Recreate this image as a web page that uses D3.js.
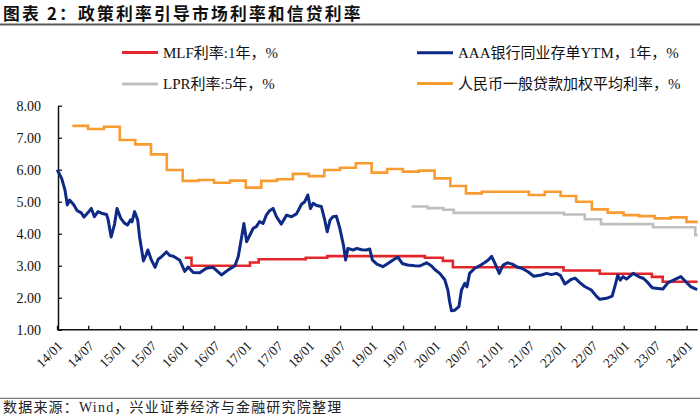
<!DOCTYPE html>
<html><head><meta charset="utf-8">
<script src="https://cdn.jsdelivr.net/npm/d3@7"></script>
<style>body{margin:0;background:#fff}svg{display:block}</style>
</head><body><svg id="c" width="700" height="418"></svg>
<script>
// ---------- DATA ----------
const xTickLabels = ["14/01","14/07","15/01","15/07","16/01","16/07","17/01","17/07","18/01","18/07","19/01","19/07","20/01","20/07","21/01","21/07","22/01","22/07","23/01","23/07","24/01"];
const yTicks = [1,2,3,4,5,6,7,8];

const mlfDates  = ["2016-01-12","2016-02-20","2017-01-24","2017-03-16","2017-12-14","2018-04-17","2019-11-05","2020-02-17","2020-04-15","2022-01-17","2022-08-15","2023-06-13","2023-08-15"];
const mlfValues = [3.25,3.00,3.10,3.20,3.25,3.30,3.25,3.15,2.95,2.85,2.75,2.65,2.50];

const lprDates  = ["2019-08-20","2019-11-20","2020-02-20","2020-04-20","2022-01-20","2022-05-20","2022-08-22","2023-06-20","2024-02-20"];
const lprValues = [4.85,4.80,4.75,4.65,4.60,4.45,4.30,4.20,3.95];

const loanDates = ["2014-03-31","2014-06-30","2014-09-30","2014-12-31","2015-03-31","2015-06-30","2015-09-30","2015-12-31",
  "2016-03-31","2016-06-30","2016-09-30","2016-12-31","2017-03-31","2017-06-30","2017-09-30","2017-12-31",
  "2018-03-31","2018-06-30","2018-09-30","2018-12-31","2019-03-31","2019-06-30","2019-09-30","2019-12-31",
  "2020-03-31","2020-06-30","2020-09-30","2020-12-31","2021-03-31","2021-06-30","2021-09-30","2021-12-31",
  "2022-03-31","2022-06-30","2022-09-30","2022-12-31","2023-03-31","2023-06-30","2023-09-30","2023-12-31"];
const loanValues = [7.37,7.27,7.34,6.93,6.79,6.48,5.99,5.65,
  5.68,5.59,5.66,5.44,5.65,5.70,5.87,5.80,
  5.99,6.06,6.20,5.91,6.02,5.94,5.97,5.73,
  5.49,5.26,5.31,5.31,5.31,5.21,5.31,5.18,
  5.00,4.76,4.66,4.58,4.55,4.48,4.51,4.37];

const ncdDates = ["2014-01-02","2014-01-28","2014-02-16","2014-03-02","2014-03-15","2014-04-09","2014-04-28","2014-05-22","2014-06-07","2014-06-30",
  "2014-07-19","2014-08-06","2014-08-27","2014-09-16","2014-10-15","2014-10-24","2014-11-11","2014-12-01","2014-12-15","2015-01-06",
  "2015-01-27","2015-02-14","2015-03-03","2015-03-12","2015-03-27","2015-04-14","2015-04-25","2015-05-10","2015-05-17","2015-06-03",
  "2015-06-12","2015-07-01","2015-07-24","2015-08-11","2015-08-30","2015-09-28","2015-10-17","2015-11-05","2015-11-21","2015-12-14",
  "2016-01-12","2016-02-01","2016-03-01","2016-04-08","2016-05-16","2016-06-24","2016-08-12","2016-09-20","2016-10-29","2016-11-17",
  "2016-12-07","2016-12-20","2017-01-05","2017-01-24","2017-02-12","2017-03-02","2017-03-21","2017-04-10","2017-04-29","2017-05-18",
  "2017-06-07","2017-06-27","2017-07-25","2017-08-24","2017-09-22","2017-10-21","2017-11-19","2017-12-08","2017-12-26","2018-01-10",
  "2018-01-26","2018-02-15","2018-03-14","2018-04-02","2018-04-17","2018-05-04","2018-05-20","2018-06-09","2018-06-28","2018-07-10",
  "2018-07-21","2018-08-02","2018-08-15","2018-09-14","2018-10-05","2018-11-04","2018-12-01","2018-12-20","2019-01-04","2019-01-30",
  "2019-03-06","2019-04-04","2019-05-13","2019-06-01","2019-06-26","2019-07-27","2019-09-07","2019-10-06","2019-11-14","2019-12-12",
  "2020-01-01","2020-01-30","2020-02-28","2020-03-17","2020-03-27","2020-04-07","2020-04-26","2020-05-20","2020-06-04","2020-06-23",
  "2020-07-06","2020-07-21","2020-08-20","2020-09-18","2020-10-17","2020-11-06","2020-11-26","2020-12-15","2021-01-09","2021-01-31",
  "2021-02-26","2021-03-25","2021-04-26","2021-05-19","2021-06-25","2021-07-28","2021-09-11","2021-10-10","2021-11-08","2021-12-07",
  "2021-12-29","2022-01-25","2022-03-01","2022-03-25","2022-04-20","2022-05-19","2022-06-27","2022-07-26","2022-08-15","2022-09-23",
  "2022-10-26","2022-11-13","2022-11-27","2022-12-12","2022-12-28","2023-01-17","2023-02-25","2023-03-28","2023-04-26","2023-05-21",
  "2023-06-15","2023-07-18","2023-08-16","2023-09-15","2023-10-17","2023-11-28","2023-12-27","2024-01-26","2024-03-02"];
const ncdValues = [6.00,5.73,5.37,4.90,5.05,4.90,4.72,4.65,4.52,4.66,
  4.79,4.53,4.69,4.64,4.60,4.45,3.90,4.30,4.79,4.48,
  4.33,4.27,4.43,4.37,4.69,4.43,3.90,3.40,3.15,3.35,
  3.49,3.20,2.95,3.20,3.28,3.43,3.32,3.30,3.25,3.17,
  2.82,2.96,2.79,2.78,2.92,2.95,2.71,2.87,3.00,3.28,
  3.90,4.32,3.75,3.96,4.17,4.22,4.38,4.32,4.58,4.72,
  4.79,4.53,4.30,4.58,4.53,4.62,4.92,5.00,5.21,4.79,
  4.95,4.88,4.85,4.45,4.06,4.43,4.53,4.55,4.20,3.90,
  3.62,3.18,3.54,3.49,3.54,3.50,3.49,3.52,3.18,3.05,
  2.97,3.07,3.21,3.27,3.07,3.02,3.00,2.99,3.09,3.00,
  2.88,2.76,2.56,2.24,1.88,1.59,1.61,1.72,2.24,2.45,
  2.34,2.76,2.92,3.00,3.10,3.18,3.29,3.07,2.76,3.02,
  3.09,3.05,2.95,2.92,2.81,2.67,2.71,2.76,2.72,2.76,
  2.70,2.43,2.57,2.61,2.48,2.35,2.24,2.05,1.95,1.98,
  2.05,2.40,2.70,2.55,2.66,2.58,2.76,2.66,2.60,2.47,
  2.31,2.29,2.27,2.47,2.55,2.66,2.50,2.34,2.25];

const seriesNames = ["MLF利率:1年，%","AAA银行同业存单YTM，1年，%","LPR利率:5年，%","人民币一般贷款加权平均利率，%"];
const seriesColors = ["#e3262b","#0d2a86","#bfbfbf","#f89b31"];
const titleText = "图表 2：政策利率引导市场利率和信贷利率";
const sourceText = "数据来源：Wind，兴业证券经济与金融研究院整理";

// ---------- CHART ----------
const svg = d3.select("#c");
const parse = d3.timeParse("%Y-%m-%d");
const tickParse = d3.timeParse("%y/%m");
const serif = "'Liberation Serif','Noto Sans CJK SC',serif";

const xStart = new Date(2014,0,1), xEnd = new Date(2024,2,5);
const x = d3.scaleTime().domain([xStart, xEnd]).range([57, 697.7]);
const y = d3.scaleLinear().domain([1, 8]).range([329.7, 105.7]);

// title
svg.append("text").attr("x",3).attr("y",19.6).text(titleText)
  .attr("font-family","'Noto Sans CJK SC',sans-serif").attr("font-weight","bold")
  .attr("font-size",16.8).attr("letter-spacing",2.2).attr("fill","#111");
svg.append("line").attr("x1",0).attr("x2",700).attr("y1",24.5).attr("y2",24.5)
  .attr("stroke","#5a5a5a").attr("stroke-width",2);
// source
svg.append("line").attr("x1",0).attr("x2",700).attr("y1",398.3).attr("y2",398.3)
  .attr("stroke","#7a7a7a").attr("stroke-width",1.2);
svg.append("text").attr("x",3).attr("y",411.5).text(sourceText)
  .attr("font-family",serif).attr("font-size",14).attr("letter-spacing",1.2).attr("fill","#222");

// axes
const yAxis = d3.axisLeft(y).tickValues(yTicks).tickFormat(d3.format(".2f"))
  .tickSizeInner(-4).tickSizeOuter(0).tickPadding(17);
const gy = svg.append("g").attr("transform","translate(58,0)").call(yAxis);
gy.selectAll("text").attr("font-family",serif).attr("font-size",14).attr("fill","#111");

const xTickDates = xTickLabels.map(tickParse);
const xAxis = d3.axisBottom(x).tickValues(xTickDates).tickFormat((d,i)=>xTickLabels[i])
  .tickSizeInner(-4).tickSizeOuter(0);
const gx = svg.append("g").attr("transform",`translate(0,${y(1)})`).call(xAxis);
gx.selectAll(".tick text").attr("font-family",serif).attr("font-size",13.5).attr("fill","#111")
  .attr("text-anchor","end").attr("dy",0).attr("y",0)
  .attr("transform","translate(6,17) rotate(-45)");
[gx, gy].forEach(g=>{ g.select(".domain").attr("stroke","#111").attr("stroke-width",1.5);
  g.selectAll(".tick line").attr("stroke","#111").attr("stroke-width",1.3); });
gx.select(".domain").attr("d",`M57,0H${x(xEnd)}`);

// lines
function stepSeries(dates, vals){
  const pts = dates.map((d,i)=>({d:parse(d), v:vals[i]}));
  pts.push({d:xEnd, v:vals[vals.length-1]});
  return pts;
}
const stepLine = d3.line().x(p=>x(p.d)).y(p=>y(p.v)).curve(d3.curveStepAfter);
const plainLine = d3.line().x(p=>x(p.d)).y(p=>y(p.v));

svg.append("path").attr("d", stepLine(stepSeries(mlfDates, mlfValues)))
  .attr("fill","none").attr("stroke",seriesColors[0]).attr("stroke-width",2.6);
svg.append("path").attr("d", plainLine(ncdDates.map((d,i)=>({d:parse(d), v:ncdValues[i]}))))
  .attr("fill","none").attr("stroke",seriesColors[1]).attr("stroke-width",3).attr("stroke-linejoin","round");
svg.append("path").attr("d", stepLine(stepSeries(lprDates, lprValues)))
  .attr("fill","none").attr("stroke",seriesColors[2]).attr("stroke-width",2.6);
svg.append("path").attr("d", stepLine(stepSeries(loanDates, loanValues)))
  .attr("fill","none").attr("stroke",seriesColors[3]).attr("stroke-width",2.6);

// legend
const legendPos = [[122,52.5],[417,52.7],[122,84],[417,83.5]];
seriesNames.forEach((n,i)=>{
  const [lx,ly] = legendPos[i];
  svg.append("line").attr("x1",lx).attr("x2",lx+36).attr("y1",ly).attr("y2",ly)
    .attr("stroke",seriesColors[i]).attr("stroke-width",3);
  svg.append("text").attr("x",lx+41).attr("y",ly+5).text(n)
    .attr("font-family",serif).attr("font-size",15).attr("fill","#111");
});
</script></body></html>
